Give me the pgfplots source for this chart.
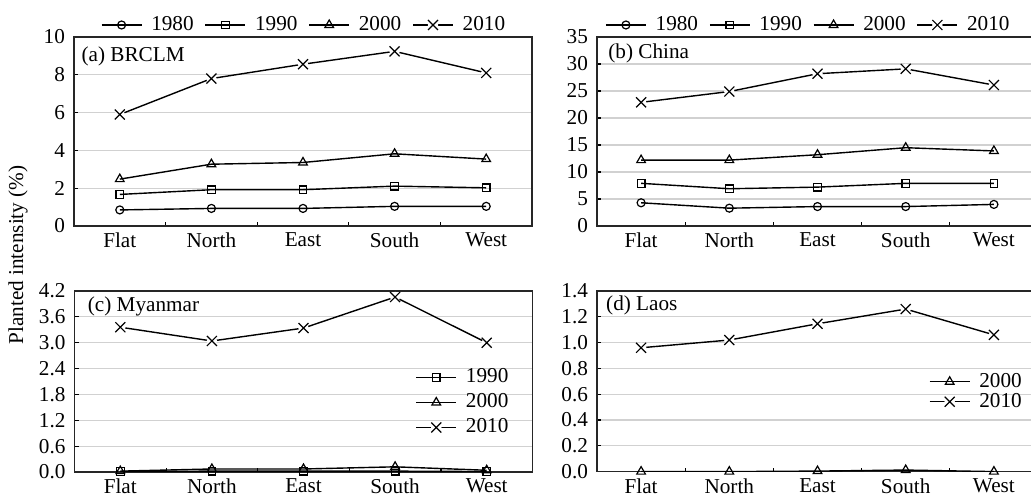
\documentclass[border=0pt]{standalone}
\usepackage{fontspec}
\setmainfont{Liberation Serif}
\usepackage{pgfplots}
\pgfplotsset{compat=1.18}

\pgfdeclareplotmark{xw}{%
  \pgfpathcircle{\pgfpointorigin}{1.05\pgfplotmarksize}%
  \pgfusepathqfill
  \pgfpathmoveto{\pgfqpoint{-\pgfplotmarksize}{-\pgfplotmarksize}}%
  \pgfpathlineto{\pgfqpoint{\pgfplotmarksize}{\pgfplotmarksize}}%
  \pgfpathmoveto{\pgfqpoint{-\pgfplotmarksize}{\pgfplotmarksize}}%
  \pgfpathlineto{\pgfqpoint{\pgfplotmarksize}{-\pgfplotmarksize}}%
  \pgfusepathqstroke}

\newcommand\ff{\fontsize{10.6}{12.5}\selectfont}

\pgfplotsset{
  panel/.style={
    scale only axis, anchor=north west,
    xmin=-0.5, xmax=4.5,
    xtick={0.5,1.5,2.5,3.5}, xticklabels={},
    extra x ticks={0,1,2,3,4},
    extra x tick labels={Flat,North,East,South,West},
    extra x tick style={major tick length=0pt},
    major tick length=2pt,
    tick align=inside, xtick pos=bottom, ytick pos=left,
    ymajorgrids, grid style={black!18, line width=0.6pt},
    axis line style={line width=0.6pt, black!85},
    every tick/.style={black, line width=0.6pt},
    tick label style={font=\ff},
    /pgf/number format/assume math mode=true,
    yticklabel style={xshift=-1pt},
    xticklabel style={yshift=0pt},
    legend image code/.code={
      \draw[mark repeat=2,mark phase=2] plot coordinates {(0pt,0pt)(10pt,0pt)(20pt,0pt)};},
    legend style={draw=none, fill=none, font=\ff,
      nodes={inner sep=0pt, text height=7.5pt, text depth=2pt, anchor=west},
      /tikz/every odd column/.append style={column sep=4.5pt},
      /tikz/every even column/.append style={column sep=5.5pt}},
  },
  every axis plot/.append style={black, line width=0.7pt, mark options={fill=white, solid, line width=0.6pt}},
  s80/.style={mark=o, mark size=2pt},
  s90/.style={mark=square, mark size=1.9pt},
  s00/.style={mark=triangle, mark size=2.5pt},
  s10/.style={mark=xw, mark size=2.5pt},
}

\begin{document}
\begin{tikzpicture}
\useasboundingbox (0,0) rectangle (515.5pt,-251pt);

% (a) BRCLM
\begin{axis}[panel, at={(37pt,-18.5pt)}, width=229pt, height=94.5pt,
  ymin=0, ymax=10, ytick={0,2,...,10},
  legend columns=4, legend style={at={(0.5,1.0635)}, anchor=center}]
\addplot[s80] coordinates {(0,0.85)(1,0.93)(2,0.93)(3,1.04)(4,1.04)};
\addplot[s90] coordinates {(0,1.67)(1,1.92)(2,1.92)(3,2.11)(4,2.02)};
\addplot[s00] coordinates {(0,2.48)(1,3.27)(2,3.36)(3,3.82)(4,3.54)};
\addplot[s10] coordinates {(0,5.9)(1,7.8)(2,8.56)(3,9.24)(4,8.1)};
\legend{1980,1990,2000,2010}
\node[anchor=base west, inner sep=0pt, font=\ff] at ([xshift=3.6pt,yshift=-12.5pt]rel axis cs:0,1) {(a) BRCLM};
\end{axis}

% (b) China
\begin{axis}[panel, at={(298.5pt,-18.5pt)}, width=220.5pt, height=94.5pt,
  ymin=0, ymax=35, ytick={0,5,...,35},
  legend columns=4, legend style={at={(0.477,1.0635)}, anchor=center}]
\addplot[s80] coordinates {(0,4.3)(1,3.3)(2,3.6)(3,3.6)(4,4.0)};
\addplot[s90] coordinates {(0,7.9)(1,6.9)(2,7.2)(3,7.9)(4,7.9)};
\addplot[s00] coordinates {(0,12.2)(1,12.2)(2,13.2)(3,14.5)(4,13.9)};
\addplot[s10] coordinates {(0,22.9)(1,24.9)(2,28.2)(3,29.1)(4,26.1)};
\legend{1980,1990,2000,2010}
\node[anchor=base west, inner sep=0pt, font=\ff] at ([xshift=5.5pt,yshift=-10.8pt]rel axis cs:0,1) {(b) China};
\end{axis}

% (c) Myanmar
\begin{axis}[panel, at={(37.25pt,-145.5pt)}, width=229pt, height=90.5pt,
  ymin=0, ymax=4.2, ytick={0,0.6,...,4.21},
  yticklabel={\pgfmathprintnumber[fixed,fixed zerofill,precision=1]{\tick}},
  legend style={at={(0.846,0.384)}, anchor=center, row sep=3pt}]
\addplot[s90] coordinates {(0,0.01)(1,0.02)(2,0.02)(3,0.02)(4,0.01)};
\addplot[s00] coordinates {(0,0.02)(1,0.07)(2,0.07)(3,0.12)(4,0.04)};
\addplot[s10] coordinates {(0,3.36)(1,3.04)(2,3.34)(3,4.06)(4,3.0)};
\legend{1990,2000,2010}
\node[anchor=base west, inner sep=0pt, font=\ff] at ([xshift=6.5pt,yshift=-10pt]rel axis cs:0,1) {(c) Myanmar};
\end{axis}

% (d) Laos
\begin{axis}[panel, at={(298.5pt,-145.5pt)}, width=220.5pt, height=90.3pt,
  ymin=0, ymax=1.4, ytick={0,0.2,...,1.41},
  yticklabel={\pgfmathprintnumber[fixed,fixed zerofill,precision=1]{\tick}},
  legend style={at={(0.858,0.442)}, anchor=center, row sep=0.5pt}]
\addplot[s00] coordinates {(0,0)(1,0)(2,0.004)(3,0.012)(4,0)};
\addplot[s10] coordinates {(0,0.96)(1,1.02)(2,1.146)(3,1.26)(4,1.06)};
\legend{2000,2010}
\node[anchor=base west, inner sep=0pt, font=\ff] at ([xshift=4.4pt,yshift=-9.5pt]rel axis cs:0,1) {(d) Laos};
\end{axis}

\node[rotate=90, font=\ff] at (9pt,-127.5pt) {Planted intensity (\%)};
\end{tikzpicture}
\end{document}
